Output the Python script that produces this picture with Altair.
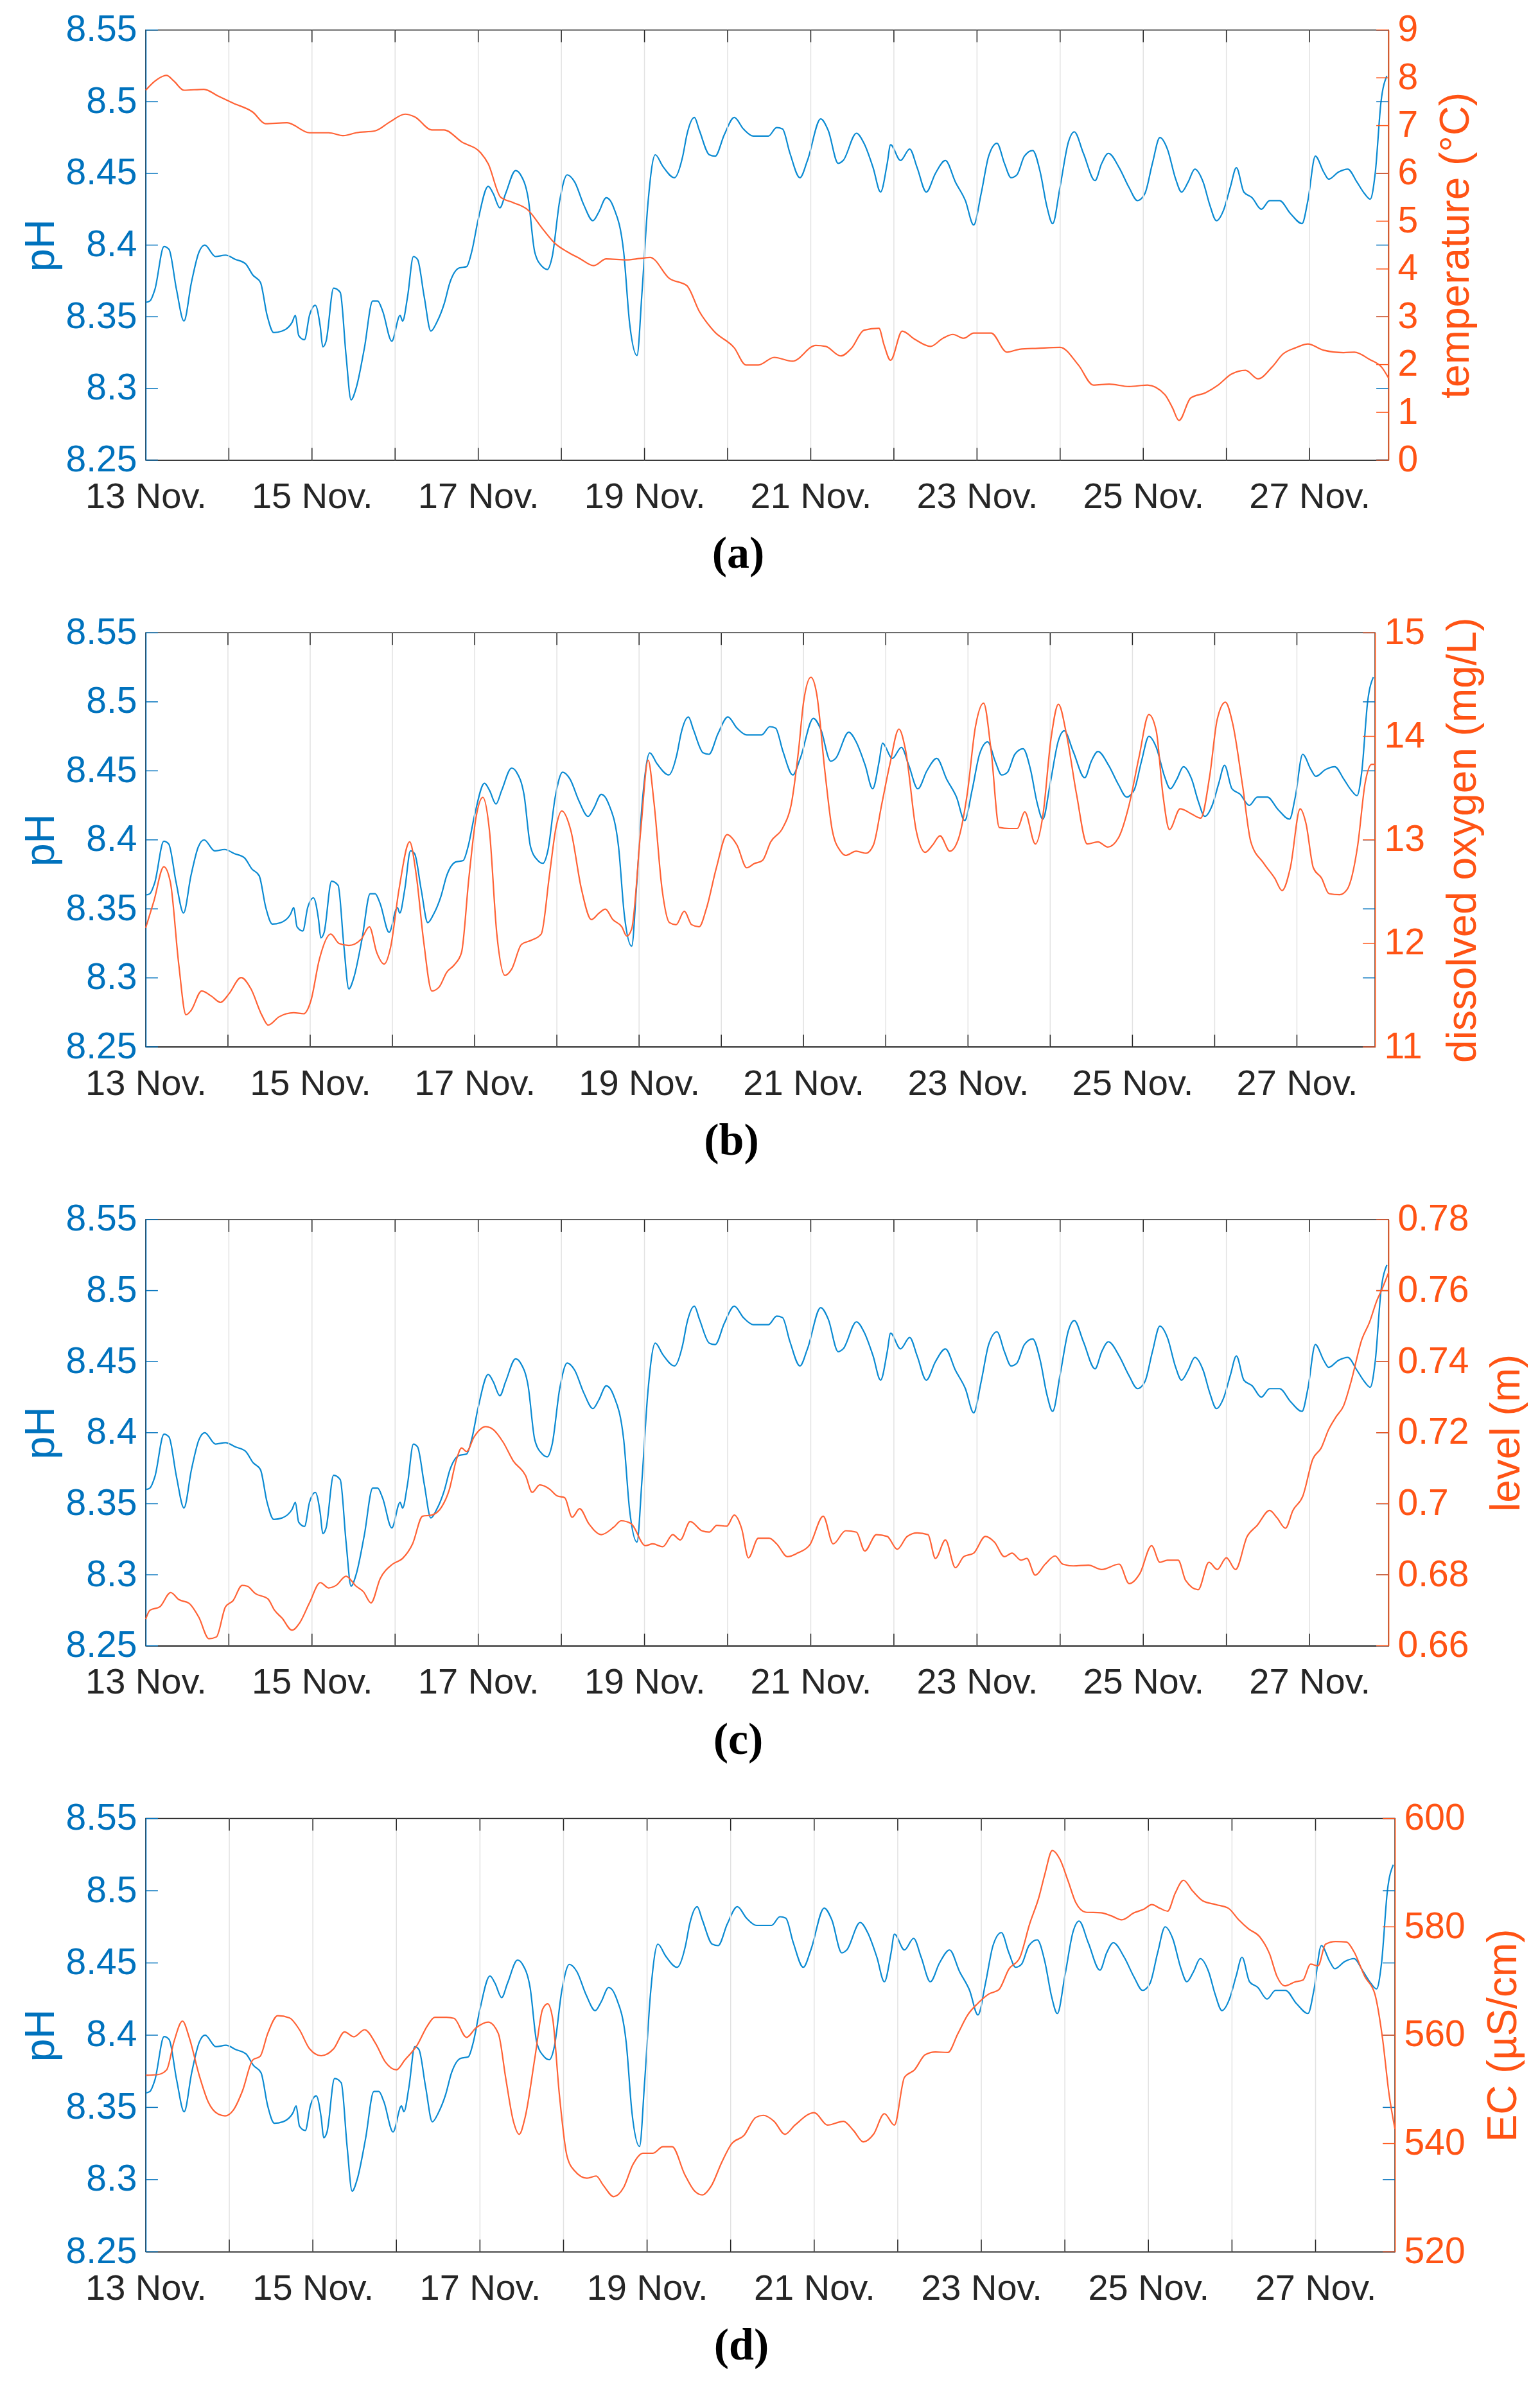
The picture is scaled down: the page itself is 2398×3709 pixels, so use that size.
import altair as alt
import pandas as pd

# ---------------- data (x = days after 13 Nov. 00:00) ----------------
ph_day = [0, 0.05, 0.11, 0.22, 0.28, 0.37, 0.46, 0.55, 0.64, 0.71, 0.84, 0.96, 1.08, 1.2, 1.29, 1.38,
          1.46, 1.54, 1.64, 1.76, 1.8, 1.84, 1.91, 1.97, 2.04, 2.1, 2.13, 2.17, 2.26, 2.34, 2.41, 2.47,
          2.53, 2.63, 2.73, 2.79, 2.85, 2.96, 3.06, 3.09, 3.15, 3.22, 3.27, 3.35, 3.43, 3.5, 3.59, 3.66,
          3.77, 3.86, 3.92, 4.0, 4.12, 4.18, 4.26, 4.33, 4.45, 4.51, 4.6, 4.68, 4.77, 4.83, 4.89, 4.98,
          5.07, 5.16, 5.27, 5.38, 5.45, 5.54, 5.63, 5.75, 5.82, 5.91, 5.97, 6.04, 6.13, 6.22, 6.36, 6.46,
          6.51, 6.6, 6.66, 6.78, 6.85, 6.96, 7.08, 7.19, 7.31, 7.49, 7.59, 7.66, 7.75, 7.87, 7.96, 8.12,
          8.21, 8.33, 8.39, 8.55, 8.64, 8.75, 8.84, 8.92, 8.96, 9.08, 9.19, 9.28, 9.39, 9.5, 9.62, 9.74,
          9.86, 9.96, 10.05, 10.14, 10.24, 10.33, 10.41, 10.48, 10.57, 10.67, 10.76, 10.84, 10.91, 11.0,
          11.1, 11.17, 11.28, 11.42, 11.5, 11.58, 11.71, 11.83, 11.93, 12.02, 12.11, 12.2, 12.29, 12.39,
          12.46, 12.54, 12.62, 12.72, 12.8, 12.88, 12.97, 13.05, 13.12, 13.21, 13.31, 13.42, 13.52, 13.64,
          13.77, 13.91, 13.98, 14.07, 14.17, 14.23, 14.35, 14.46, 14.57, 14.66, 14.73, 14.79, 14.86, 14.93]
ph_val = [8.360, 8.361, 8.369, 8.399, 8.397, 8.369, 8.347, 8.374, 8.395, 8.400, 8.392, 8.393, 8.390,
          8.387, 8.379, 8.374, 8.351, 8.339, 8.340, 8.346, 8.351, 8.337, 8.334, 8.351, 8.358, 8.343,
          8.329, 8.333, 8.370, 8.367, 8.323, 8.292, 8.300, 8.328, 8.361, 8.361, 8.354, 8.333, 8.351,
          8.347, 8.364, 8.392, 8.390, 8.364, 8.340, 8.346, 8.359, 8.374, 8.384, 8.385, 8.395, 8.418,
          8.441, 8.436, 8.426, 8.436, 8.452, 8.449, 8.433, 8.395, 8.385, 8.383, 8.392, 8.431, 8.449,
          8.444, 8.428, 8.417, 8.423, 8.433, 8.426, 8.395, 8.346, 8.323, 8.367, 8.428, 8.463, 8.455,
          8.447, 8.462, 8.477, 8.489, 8.480, 8.463, 8.462, 8.477, 8.489, 8.481, 8.476, 8.476, 8.482,
          8.481, 8.464, 8.447, 8.459, 8.488, 8.480, 8.457, 8.459, 8.478, 8.471, 8.454, 8.437, 8.457,
          8.470, 8.459, 8.467, 8.454, 8.437, 8.450, 8.459, 8.444, 8.431, 8.414, 8.436, 8.462, 8.471,
          8.457, 8.447, 8.449, 8.462, 8.466, 8.451, 8.427, 8.415, 8.441, 8.472, 8.479, 8.464, 8.445,
          8.457, 8.464, 8.454, 8.440, 8.431, 8.436, 8.457, 8.475, 8.467, 8.446, 8.437, 8.444, 8.453,
          8.444, 8.428, 8.417, 8.425, 8.441, 8.454, 8.437, 8.433, 8.425, 8.431, 8.431, 8.422, 8.415,
          8.431, 8.462, 8.451, 8.446, 8.451, 8.453, 8.444, 8.436, 8.432, 8.450, 8.500, 8.518]

temp_day = [0, 0.11, 0.25, 0.34, 0.46, 0.70, 0.87, 1.05, 1.29, 1.44, 1.7, 1.97, 2.2, 2.38, 2.53, 2.76,
            2.94, 3.12, 3.24, 3.44, 3.59, 3.8, 4.03, 4.12, 4.27, 4.42, 4.6, 4.77, 4.92, 5.07, 5.22, 5.39,
            5.54, 5.78, 5.95, 6.07, 6.3, 6.51, 6.66, 6.84, 7.08, 7.22, 7.37, 7.56, 7.78, 8.06, 8.18, 8.36,
            8.49, 8.64, 8.82, 8.88, 8.96, 9.1, 9.25, 9.44, 9.59, 9.71, 9.84, 9.96, 10.17, 10.36, 10.51,
            10.73, 11.0, 11.22, 11.4, 11.59, 11.83, 12.05, 12.26, 12.35, 12.43, 12.57, 12.75, 12.9, 13.06,
            13.23, 13.38, 13.55, 13.68, 13.83, 13.98, 14.17, 14.41, 14.54, 14.72, 14.87, 14.95]
temp_val = [7.74, 7.93, 8.05, 7.93, 7.74, 7.76, 7.62, 7.47, 7.28, 7.04, 7.06, 6.85, 6.85, 6.79, 6.85,
            6.89, 7.08, 7.24, 7.18, 6.91, 6.91, 6.66, 6.43, 6.20, 5.50, 5.39, 5.23, 4.85, 4.54, 4.36,
            4.22, 4.07, 4.21, 4.19, 4.22, 4.24, 3.80, 3.65, 3.11, 2.69, 2.35, 1.99, 1.99, 2.15, 2.07,
            2.40, 2.38, 2.18, 2.34, 2.72, 2.76, 2.42, 2.09, 2.70, 2.53, 2.38, 2.55, 2.63, 2.55, 2.66,
            2.66, 2.26, 2.32, 2.34, 2.36, 1.99, 1.57, 1.59, 1.54, 1.57, 1.37, 1.10, 0.83, 1.30, 1.41,
            1.57, 1.80, 1.88, 1.70, 1.95, 2.22, 2.35, 2.43, 2.30, 2.25, 2.26, 2.11, 1.94, 1.72]

do_day = [0, 0.10, 0.22, 0.30, 0.40, 0.49, 0.55, 0.68, 0.80, 0.91, 1.01, 1.16, 1.28, 1.41, 1.49, 1.62,
          1.80, 1.92, 2.01, 2.11, 2.25, 2.35, 2.47, 2.62, 2.72, 2.81, 2.90, 2.98, 3.08, 3.21, 3.29, 3.38,
          3.48, 3.57, 3.66, 3.75, 3.84, 3.93, 4.02, 4.10, 4.18, 4.27, 4.37, 4.45, 4.57, 4.69, 4.81, 4.91,
          4.99, 5.06, 5.17, 5.30, 5.42, 5.51, 5.59, 5.68, 5.79, 5.85, 5.91, 6.02, 6.11, 6.18, 6.28, 6.37,
          6.45, 6.55, 6.64, 6.73, 6.82, 6.94, 7.07, 7.19, 7.31, 7.40, 7.5, 7.6, 7.75, 7.85, 7.94, 8.0,
          8.09, 8.16, 8.26, 8.35, 8.45, 8.51, 8.64, 8.76, 8.85, 8.95, 9.05, 9.16, 9.24, 9.37, 9.48, 9.57,
          9.66, 9.78, 9.88, 9.99, 10.09, 10.19, 10.28, 10.38, 10.5, 10.6, 10.69, 10.82, 10.91, 11.01,
          11.1, 11.2, 11.32, 11.45, 11.58, 11.7, 11.83, 11.96, 12.08, 12.2, 12.29, 12.37, 12.45, 12.58,
          12.72, 12.83, 12.94, 13.03, 13.13, 13.22, 13.34, 13.44, 13.6, 13.73, 13.82, 13.92, 14.04,
          14.11, 14.2, 14.3, 14.39, 14.52, 14.61, 14.74, 14.83, 14.91, 14.95]
do_val = [12.15, 12.41, 12.74, 12.59, 11.81, 11.31, 11.35, 11.54, 11.49, 11.43, 11.51, 11.67, 11.56,
          11.31, 11.21, 11.29, 11.33, 11.32, 11.45, 11.84, 12.09, 12.00, 11.98, 12.04, 12.16, 11.91,
          11.80, 11.97, 12.52, 12.98, 12.66, 12.02, 11.54, 11.58, 11.72, 11.79, 11.91, 12.63, 13.23,
          13.41, 13.09, 12.09, 11.69, 11.75, 11.99, 12.03, 12.09, 12.66, 13.12, 13.28, 13.09, 12.52,
          12.23, 12.29, 12.33, 12.23, 12.16, 12.07, 12.14, 13.09, 13.77, 13.37, 12.52, 12.20, 12.18,
          12.31, 12.18, 12.16, 12.34, 12.73, 13.05, 12.95, 12.73, 12.77, 12.80, 12.98, 13.12, 13.34,
          13.87, 14.33, 14.57, 14.41, 13.66, 13.09, 12.89, 12.85, 12.89, 12.87, 12.95, 13.34, 13.73,
          14.07, 13.87, 13.09, 12.88, 12.95, 13.04, 12.89, 13.00, 13.44, 14.09, 14.32, 13.87, 13.12,
          13.11, 13.11, 13.27, 12.96, 13.23, 13.98, 14.31, 14.01, 13.44, 12.96, 12.98, 12.93, 13.02,
          13.34, 13.80, 14.21, 14.05, 13.44, 13.10, 13.30, 13.25, 13.21, 13.62, 14.16, 14.33, 14.12,
          13.52, 12.98, 12.77, 12.63, 12.51, 12.73, 13.30, 13.16, 12.73, 12.63, 12.48, 12.47, 12.52,
          12.95, 13.55, 13.73, 13.73]

lvl_day = [0, 0.05, 0.17, 0.30, 0.40, 0.52, 0.64, 0.76, 0.85, 0.96, 1.05, 1.16, 1.22, 1.32, 1.47, 1.55,
           1.64, 1.76, 1.85, 1.97, 2.10, 2.20, 2.29, 2.41, 2.53, 2.62, 2.71, 2.82, 2.97, 3.09, 3.21, 3.33,
           3.44, 3.56, 3.65, 3.74, 3.80, 3.86, 3.95, 4.09, 4.18, 4.30, 4.42, 4.57, 4.65, 4.74, 4.86, 4.95,
           5.04, 5.13, 5.22, 5.33, 5.48, 5.63, 5.72, 5.84, 6.01, 6.10, 6.22, 6.34, 6.43, 6.55, 6.69, 6.78,
           6.87, 6.99, 7.08, 7.17, 7.25, 7.37, 7.5, 7.59, 7.72, 7.84, 7.99, 8.15, 8.27, 8.42, 8.55, 8.65,
           8.79, 8.92, 9.04, 9.16, 9.28, 9.41, 9.5, 9.62, 9.74, 9.84, 9.96, 10.1, 10.21, 10.33, 10.42,
           10.53, 10.6, 10.7, 10.82, 10.94, 11.03, 11.16, 11.34, 11.5, 11.71, 11.83, 11.96, 12.1, 12.2,
           12.29, 12.42, 12.51, 12.66, 12.79, 12.89, 13.0, 13.11, 13.25, 13.37, 13.52, 13.61, 13.71, 13.8,
           13.92, 14.04, 14.14, 14.23, 14.32, 14.41, 14.5, 14.63, 14.72, 14.81, 14.87, 14.95]
lvl_val = [0.6675, 0.670, 0.671, 0.675, 0.673, 0.672, 0.668, 0.662, 0.6625, 0.671, 0.6727, 0.677,
           0.6768, 0.6747, 0.6732, 0.670, 0.6678, 0.6644, 0.6664, 0.6721, 0.6778, 0.6763, 0.677,
           0.6796, 0.6768, 0.6752, 0.6721, 0.6789, 0.683, 0.6846, 0.6887, 0.6965, 0.6968, 0.6991,
           0.7038, 0.7126, 0.7157, 0.7147, 0.7188, 0.7217, 0.7209, 0.7173, 0.7121, 0.7079, 0.7032,
           0.7053, 0.7041, 0.7022, 0.7017, 0.6962, 0.6986, 0.6944, 0.6913, 0.6934, 0.6952, 0.6944,
           0.6882, 0.6887, 0.6879, 0.6913, 0.6898, 0.6950, 0.6924, 0.6920, 0.6939, 0.6937, 0.6968,
           0.6929, 0.6848, 0.6903, 0.6903, 0.6887, 0.6851, 0.6861, 0.6885, 0.6965, 0.6887, 0.6924,
           0.6920, 0.6867, 0.6913, 0.6908, 0.6872, 0.6908, 0.6918, 0.6913, 0.6846, 0.6898, 0.6820,
           0.6851, 0.6861, 0.6908, 0.6892, 0.6851, 0.6861, 0.6841, 0.6846, 0.6799, 0.6830, 0.6853,
           0.6830, 0.6825, 0.6827, 0.6815, 0.6830, 0.6775, 0.6804, 0.6882, 0.6835, 0.6841, 0.6841,
           0.6784, 0.6758, 0.6835, 0.6815, 0.6848, 0.6815, 0.6908, 0.6939, 0.6981, 0.6960, 0.6931,
           0.6981, 0.7022, 0.7126, 0.7157, 0.7209, 0.7245, 0.7276, 0.7344, 0.7463, 0.751, 0.7572,
           0.7603, 0.765]

ec_day = [0, 0.14, 0.25, 0.34, 0.44, 0.52, 0.64, 0.75, 0.87, 0.95, 1.05, 1.16, 1.28, 1.37, 1.46, 1.58,
          1.72, 1.84, 1.96, 2.10, 2.25, 2.38, 2.49, 2.62, 2.75, 2.87, 3.00, 3.10, 3.25, 3.37, 3.46, 3.60,
          3.69, 3.84, 3.95, 4.10, 4.22, 4.31, 4.40, 4.47, 4.54, 4.66, 4.75, 4.81, 4.87, 4.95, 5.04, 5.13,
          5.28, 5.39, 5.48, 5.60, 5.72, 5.83, 5.95, 6.07, 6.19, 6.30, 6.45, 6.57, 6.66, 6.77, 6.89, 7.01,
          7.16, 7.30, 7.39, 7.52, 7.65, 7.77, 8.0, 8.16, 8.35, 8.47, 8.59, 8.71, 8.84, 8.96, 9.08, 9.2,
          9.33, 9.45, 9.6, 9.72, 9.84, 9.96, 10.09, 10.21, 10.33, 10.46, 10.58, 10.69, 10.76, 10.85,
          10.94, 11.04, 11.13, 11.25, 11.43, 11.56, 11.68, 11.83, 11.95, 12.04, 12.14, 12.23, 12.32,
          12.42, 12.53, 12.65, 12.81, 12.96, 13.08, 13.2, 13.33, 13.45, 13.54, 13.63, 13.75, 13.85,
          13.94, 14.03, 14.12, 14.24, 14.37, 14.46, 14.59, 14.71, 14.8, 14.88, 14.95]
ec_val = [552.6, 552.7, 553.6, 558.9, 562.6, 559.6, 552.6, 547.6, 545.4, 545.1, 546.2, 549.8, 555.4,
          556.1, 560.3, 563.6, 563.2, 561.0, 557.5, 556.2, 557.5, 560.6, 559.7, 561.0, 558.5, 555.0,
          553.6, 555.4, 558.2, 561.7, 563.3, 563.3, 563.1, 559.6, 561.3, 562.4, 560.3, 551.9, 544.1,
          541.7, 544.8, 556.1, 564.8, 565.8, 563.1, 549.1, 537.8, 535.0, 533.6, 534.0, 532.2, 530.2,
          531.9, 536.1, 538.2, 538.2, 539.4, 539.4, 534.3, 531.2, 530.5, 532.2, 536.4, 539.9, 541.5,
          544.8, 545.2, 544.1, 541.7, 543.4, 545.7, 543.4, 544.1, 542.4, 540.3, 541.7, 545.5, 543.4,
          552.2, 553.6, 556.4, 556.9, 556.8, 560.3, 563.8, 565.9, 567.6, 568.4, 572.2, 574.3, 580.6,
          585.5, 589.7, 594.1, 592.5, 588.4, 584.5, 582.7, 582.6, 582.0, 581.3, 582.6, 583.3, 584.1,
          583.4, 582.9, 586.2, 588.6, 586.6, 584.8, 584.1, 583.4, 581.3, 579.6, 578.2, 575.0, 570.8,
          569.1, 569.8, 570.2, 573.1, 572.8, 576.8, 577.3, 577.2, 575.4, 570.8, 567.6, 559.6, 549.1,
          542.7]

# axis ticks / labels (day offsets)
grid_days = list(range(1, 15))            # vertical grid lines / ticks, one per day
label_days = [0, 2, 4, 6, 8, 10, 12, 14]  # labelled days: 13, 15, ..., 27 Nov.
ph_ticks = [8.25, 8.3, 8.35, 8.4, 8.45, 8.5, 8.55]
temp_ticks = [0, 1, 2, 3, 4, 5, 6, 7, 8, 9]
do_ticks = [11, 12, 13, 14, 15]
lvl_ticks = [0.66, 0.68, 0.7, 0.72, 0.74, 0.76, 0.78]
ec_ticks = [520, 540, 560, 580, 600]

T0_MS = pd.Timestamp("2019-11-13T00:00:00").value // 1_000_000
DAY_MS = 86400000.0


def to_ms(days):
    return [T0_MS + d * DAY_MS for d in days]


# ---------------- styling ----------------
BLUE_AX = "#0072BD"
BLUE_LN = "#0A8AD2"
OR_AX = "#FF5314"
OR_LN = "#FF6235"
DARK = "#262626"
FONT = "Liberation Sans"
X_END = 14.95
TICK = 19


def panel(letter, odays, ovals, odomain, oticks, otitle, W, H):
    xs = alt.Scale(type="utc", domain=[T0_MS, T0_MS + X_END * DAY_MS], nice=False)
    ys_ph = alt.Scale(domain=[8.25, 8.55], nice=False, zero=False)
    ys_o = alt.Scale(domain=odomain, nice=False, zero=False)

    xaxis = alt.Axis(values=to_ms(label_days), format="%d %b.", grid=False,
                     ticks=False, domain=True, domainColor=DARK, domainWidth=1.5,
                     labelFont=FONT, labelFontSize=56, labelColor=DARK, labelLimit=0,
                     labelPadding=30, labelFlush=False, labelOverlap=False, title=None)

    def X(field):
        return alt.X(field, type="temporal", scale=xs, axis=xaxis)

    ph_df = pd.DataFrame({"t": to_ms(ph_day), "ph": ph_val})
    o_df = pd.DataFrame({"t": to_ms(odays), "v": ovals})
    grid_df = pd.DataFrame({"t": to_ms(grid_days)})
    pht_df = pd.DataFrame({"k": ph_ticks})
    ot_df = pd.DataFrame({"k": oticks})

    ph_line = alt.Chart(ph_df).mark_line(color=BLUE_LN, strokeWidth=2.2, interpolate="monotone").encode(
        x=X("t"),
        y=alt.Y("ph:Q", scale=ys_ph, axis=alt.Axis(
            orient="left", values=ph_ticks, format="~r", ticks=False, grid=False,
            domainColor=BLUE_AX, domainWidth=1.5, labelColor=BLUE_AX, labelFont=FONT,
            labelFontSize=57, labelPadding=14, title="pH", titleColor=BLUE_AX,
            titleFont=FONT, titleFontSize=64, titleFontWeight="normal", titlePadding=6)))
    grid = alt.Chart(grid_df).mark_rule(color="#e2e2e2", strokeWidth=1.5).encode(
        x=X("t"), y=alt.value(0), y2=alt.value(H))
    xt_top = alt.Chart(grid_df).mark_rule(color=DARK, strokeWidth=1.5).encode(
        x=X("t"), y=alt.value(0), y2=alt.value(TICK))
    xt_bot = alt.Chart(grid_df).mark_rule(color=DARK, strokeWidth=1.5).encode(
        x=X("t"), y=alt.value(H - TICK), y2=alt.value(H))
    ph_tl = alt.Chart(pht_df).mark_rule(color=BLUE_AX, strokeWidth=1.5).encode(
        y=alt.Y("k:Q", scale=ys_ph, axis=None), x=alt.value(0), x2=alt.value(TICK))
    ph_tr = alt.Chart(pht_df).mark_rule(color=BLUE_AX, strokeWidth=1.5).encode(
        y=alt.Y("k:Q", scale=ys_ph, axis=None), x=alt.value(W - TICK), x2=alt.value(W))
    o_tr = alt.Chart(ot_df).mark_rule(color=OR_AX, strokeWidth=1.5).encode(
        y=alt.Y("k:Q", scale=ys_o, axis=None), x=alt.value(W - TICK), x2=alt.value(W))
    o_line = alt.Chart(o_df).mark_line(color=OR_LN, strokeWidth=2.2, interpolate="monotone").encode(
        x=X("t"),
        y=alt.Y("v:Q", scale=ys_o, axis=alt.Axis(
            orient="right", values=oticks, format="~r", ticks=False, grid=False,
            domainColor=OR_AX, domainWidth=1.5, labelColor=OR_AX, labelFont=FONT,
            labelFontSize=57, labelPadding=14, title=otitle, titleColor=OR_AX,
            titleFont=FONT, titleFontSize=64, titleFontWeight="normal",
            titleAngle=270, titleBaseline="top", titlePadding=28)))

    return alt.layer(ph_line, grid, xt_top, xt_bot, ph_tl, ph_tr, o_tr, o_line).resolve_scale(
        y="independent").properties(
        width=W, height=H,
        title=alt.TitleParams(text=f"({letter})", orient="bottom", anchor="middle", frame="group",
                              font="Liberation Serif", fontSize=70, fontWeight="bold",
                              color="black", offset=28, dx=-45))


pa = panel("a", temp_day, temp_val, [0, 9], temp_ticks, "temperature (°C)", 1936, 670)
pb = panel("b", do_day, do_val, [11, 15], do_ticks, "dissolved oxygen (mg/L)", 1915, 645)
pc = panel("c", lvl_day, lvl_val, [0.66, 0.78], lvl_ticks, "level (m)", 1936, 664)
pd_ = panel("d", ec_day, ec_val, [520, 600], ec_ticks, "EC (µS/cm)", 1946, 675)

chart = alt.vconcat(pa, pb, pc, pd_, spacing=56).configure_view(
    stroke=DARK, strokeWidth=1.5).properties(
    padding={"left": 23, "top": 8, "right": 10, "bottom": 10}, background="white")

chart.save("out.html", embed_options={"renderer": "svg", "actions": False})
